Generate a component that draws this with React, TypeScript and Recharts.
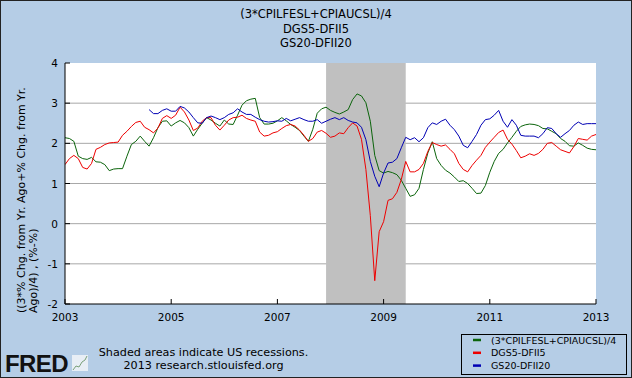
import { LineChart, Line, XAxis, YAxis, CartesianGrid, ReferenceArea } from 'recharts';

// monthly, Jan 2003 .. Jan 2013
const START_YEAR = 2003;

const cpiBlend = [
  2.14, 2.12, 2.05, 1.68, 1.62, 1.6, 1.65, 1.54, 1.53, 1.47, 1.32, 1.36,
  1.37, 1.37, 1.68, 1.97, 2.05, 2.18, 2.05, 1.93, 2.14, 2.39, 2.55, 2.56,
  2.43, 2.51, 2.57, 2.51, 2.39, 2.18, 2.35, 2.5, 2.64, 2.58, 2.5, 2.43,
  2.58, 2.48, 2.47, 2.7, 2.95, 3.06, 3.1, 3.12, 2.64, 2.48, 2.48, 2.5,
  2.56, 2.64, 2.56, 2.47, 2.4, 2.32, 2.18, 2.05, 2.35, 2.75, 2.86, 2.9,
  2.82, 2.77, 2.73, 2.78, 2.84, 3.09, 3.23, 3.18, 3.01, 2.55, 1.7, 1.32,
  1.26, 1.3, 1.27, 1.22, 1.08, 0.88, 0.68, 0.72, 0.88, 1.35, 1.76, 2.04,
  1.62, 1.45, 1.33, 1.26, 1.16, 1.05, 1.07, 1.0, 0.88, 0.75, 0.76, 0.95,
  1.28, 1.55, 1.75, 1.85, 2.01, 2.15, 2.3, 2.42, 2.46, 2.48, 2.47, 2.44,
  2.37, 2.36, 2.3, 2.24, 2.12, 2.05, 1.94, 1.93, 2.01, 1.95, 1.88, 1.85,
  1.84,
];

const dgs5 = [
  1.47, 1.62, 1.7, 1.62, 1.4, 1.36, 1.5, 1.85, 1.9, 1.97, 2.01, 2.02,
  2.03, 2.2, 2.3, 2.42, 2.52, 2.55, 2.4, 2.34, 2.26, 2.38, 2.62, 2.69,
  2.62, 2.7, 2.9, 2.78, 2.58, 2.32, 2.38, 2.55, 2.64, 2.64, 2.45, 2.33,
  2.45, 2.58, 2.64, 2.65, 2.7, 2.62, 2.58, 2.55, 2.28, 2.18, 2.2, 2.26,
  2.29, 2.37, 2.44, 2.47, 2.43, 2.33, 2.2, 2.05, 2.12, 2.28, 2.32, 2.25,
  2.15, 2.18, 2.26, 2.24, 2.39, 2.51, 2.43, 2.1, 1.35, 0.2, -1.42, -0.2,
  0.05, 0.58, 0.62, 0.78, 1.1, 1.55, 1.29, 1.29, 1.35, 1.5, 1.8, 2.02,
  1.97, 1.93, 1.96, 1.85, 1.74, 1.5, 1.35, 1.29, 1.45, 1.58, 1.7, 1.9,
  2.03, 2.15, 2.27, 2.33, 2.1, 1.98, 1.82, 1.64, 1.68, 1.74, 1.7, 1.75,
  1.85, 2.0, 2.02, 1.93, 1.84, 1.8, 1.76, 1.92, 2.12, 2.1, 2.08, 2.18,
  2.22,
];

// series starts Aug 2004
const gs20 = [
  null, null, null, null, null, null, null, null, null, null, null, null,
  null, null, null, null, null, null, null, 2.84, 2.74, 2.74, 2.82, 2.86,
  2.8, 2.8, 2.92, 2.88, 2.78, 2.64, 2.51, 2.5, 2.64, 2.68, 2.64, 2.59,
  2.64, 2.72, 2.76, 2.86, 2.78, 2.72, 2.72, 2.65, 2.59, 2.55, 2.53, 2.54,
  2.56, 2.55, 2.62, 2.56, 2.6, 2.64, 2.59, 2.55, 2.55, 2.59, 2.5, 2.55,
  2.6, 2.64, 2.59, 2.64, 2.57, 2.53, 2.51, 2.4, 2.09, 1.55, 1.18, 0.92,
  1.26, 1.51, 1.53, 1.62, 1.89, 2.15, 2.09, 2.14, 2.04, 2.14, 2.39, 2.51,
  2.47, 2.55, 2.6, 2.45, 2.34, 2.18, 1.95, 1.89, 2.05, 2.22, 2.45, 2.59,
  2.61, 2.7, 2.82, 2.55, 2.4, 2.59, 2.45, 2.2, 2.18, 2.18, 2.18, 2.14,
  2.24, 2.39, 2.37, 2.24, 2.15, 2.24, 2.32, 2.45, 2.53, 2.47, 2.49, 2.49,
  2.49,
];

const xTicks = [2003, 2005, 2007, 2009, 2011, 2013];
const yTicks = [-2, -1, 0, 1, 2, 3, 4];
const recession = [2007 + 11 / 12, 2009 + 5 / 12]; // Dec 2007 - Jun 2009

const titleLines = ['(3*CPILFESL+CPIAUCSL)/4', 'DGS5-DFII5', 'GS20-DFII20'];
const yLabelLines = ['((3*% Chg. from Yr. Ago+% Chg. from Yr.', 'Ago)/4) , (%-%)'];
const legendItems = [
  { name: '(3*CPILFESL+CPIAUCSL)/4', color: '#0b640b' },
  { name: 'DGS5-DFII5', color: '#ee0000' },
  { name: 'GS20-DFII20', color: '#0000b4' },
];

const FONT = '"DejaVu Sans", Verdana, sans-serif';
const BG = '#b5cde6';

const rows = cpiBlend.map((v, i) => ({
  t: START_YEAR + i / 12,
  cpi: v,
  be5: dgs5[i],
  be20: gs20[i],
}));

function XTick({ x, y, payload }: any) {
  return (
    <g>
      <line x1={x} x2={x} y1={y} y2={y - 5} stroke='#000' />
      <text x={x} y={y + 17} textAnchor='middle' fontSize={10.5} fontFamily={FONT} fill='#000'>
        {payload.value}
      </text>
    </g>
  );
}

function YTick({ x, y, payload }: any) {
  return (
    <g>
      <line x1={x} x2={x + 5} y1={y} y2={y} stroke='#000' />
      <text x={x - 7} y={y + 4} textAnchor='end' fontSize={10.5} fontFamily={FONT} fill='#000'>
        {payload.value}
      </text>
    </g>
  );
}

export default function App() {
  return (
    <div style={{ position: 'absolute', left: 0, top: 0, width: 632, height: 378, background: BG }}>
      <LineChart width={632} height={378} data={rows} margin={{ top: 63, right: 36, bottom: 54, left: 0 }}>
        <CartesianGrid vertical={false} horizontalValues={[-1, 0, 1, 2, 3]} stroke='#a8a8a8' fill='#fff' />
        <ReferenceArea x1={recession[0]} x2={recession[1]} fill='#c0c0c0' fillOpacity={1} stroke='none' />
        <XAxis
          type='number'
          dataKey='t'
          domain={[2003, 2013]}
          ticks={xTicks}
          allowDataOverflow
          height={20}
          tickSize={0}
          tickMargin={0}
          tickLine={false}
          axisLine={{ stroke: '#000' }}
          tick={<XTick />}
        />
        <YAxis
          type='number'
          domain={[-2, 4]}
          ticks={yTicks}
          width={65}
          tickSize={0}
          tickMargin={0}
          tickLine={false}
          axisLine={{ stroke: '#000' }}
          tick={<YTick />}
        />
        <Line dataKey='cpi' stroke='#0b640b' strokeWidth={1} dot={false} isAnimationActive={false} />
        <Line dataKey='be5' stroke='#ee0000' strokeWidth={1} dot={false} isAnimationActive={false} />
        <Line dataKey='be20' stroke='#0000b4' strokeWidth={1} dot={false} isAnimationActive={false} />
      </LineChart>

      <svg width={632} height={378} style={{ position: 'absolute', left: 0, top: 0, pointerEvents: 'none' }}>
        {titleLines.map((s, i) => (
          <text key={s} x={316} y={18 + i * 14.5} textAnchor='middle' fontSize={11.5} fontFamily={FONT} fill='#000'>
            {s}
          </text>
        ))}
        {yLabelLines.map((s, i) => (
          <text
            key={s}
            transform={`translate(${25 + i * 12},313) rotate(-90)`}
            fontSize={11}
            fontFamily={FONT}
            fill='#000'
          >
            {s}
          </text>
        ))}

        <rect x={461.5} y={334.5} width={165} height={40} fill='none' stroke='#000' />
        {legendItems.map((d, i) => (
          <g key={d.name}>
            <line x1={473} x2={481} y1={340 + i * 12.8} y2={340 + i * 12.8} stroke={d.color} strokeWidth={2.5} />
            <text x={491} y={343.5 + i * 12.8} fontSize={9.5} fontFamily={FONT} fill='#000'>
              {d.name}
            </text>
          </g>
        ))}

        <text x={5} y={372} fontSize={24} fontWeight={900} fontFamily='"Liberation Sans", Arial, sans-serif' letterSpacing={-0.6} fill='#111'>
          FRED
        </text>
        <rect x={72} y={355} width={16} height={16} fill='#e8eef5' />
        <polyline points='73,370 76,366 79,367 82,362 85,360 87,356' fill='none' stroke='#7aa07a' strokeWidth={1} />
        <text x={203.5} y={356} textAnchor='middle' fontSize={11.2} fontFamily={FONT} fill='#000'>
          Shaded areas indicate US recessions.
        </text>
        <text x={203.5} y={369} textAnchor='middle' fontSize={11.2} fontFamily={FONT} fill='#000'>
          2013 research.stlouisfed.org
        </text>

        <rect x={0.5} y={0.5} width={631} height={377} fill='none' stroke='#222' />
      </svg>
    </div>
  );
}
